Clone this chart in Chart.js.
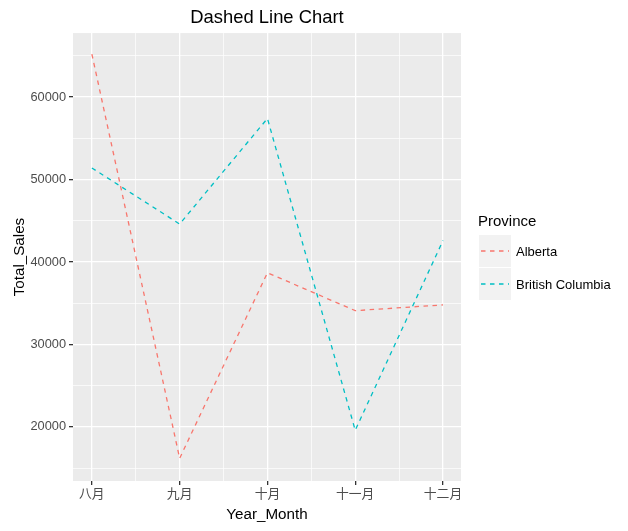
<!DOCTYPE html>
<html>
<head>
<meta charset="utf-8">
<script src="https://cdn.jsdelivr.net/npm/chart.js@4"></script>
<style>
  html, body { margin: 0; padding: 0; background: #fff; }
  #wrap { width: 628px; height: 531px; }
</style>
</head>
<body>
<div id="wrap"><canvas id="myChart" width="628" height="531"></canvas></div>
<script>
const months = ['八月', '九月', '十月', '十一月', '十二月'];
const albertaSales = [65200, 16200, 38700, 34100, 34800];
const bcSales = [51400, 44600, 57400, 19600, 42600];
const seriesNames = ['Alberta', 'British Columbia'];
const seriesColors = ['#F8766D', '#00BFC4'];
const yTicks = [15000, 20000, 25000, 30000, 35000, 40000, 45000, 50000, 55000, 60000, 65000];

const fontFamily = '"Liberation Sans", Arial, "Noto Sans CJK SC", sans-serif';

function toPoints(values) {
    return values.map((v, i) => ({ x: i, y: v }));
}

// gray panel behind the plot area
const panelBg = {
    id: 'panelBg',
    beforeDraw(chart) {
        const { ctx, chartArea } = chart;
        ctx.save();
        ctx.fillStyle = '#EBEBEB';
        ctx.fillRect(chartArea.left, chartArea.top, chartArea.right - chartArea.left, chartArea.bottom - chartArea.top);
        ctx.restore();
    }
};

// ggplot-style legend on the right
const sideLegend = {
    id: 'sideLegend',
    afterDraw(chart) {
        const ctx = chart.ctx;
        const x0 = 479;
        ctx.save();
        ctx.fillStyle = '#000';
        ctx.font = '15px ' + fontFamily;
        ctx.textBaseline = 'middle';
        ctx.fillText('Province', x0 - 1, 222);
        chart.data.datasets.forEach((ds, i) => {
            const top = 235 + i * 33;
            ctx.fillStyle = '#F2F2F2';
            ctx.fillRect(x0, top, 32, 32);
            ctx.strokeStyle = ds.borderColor;
            ctx.lineWidth = 1.3;
            ctx.setLineDash([4.5, 4.5]);
            ctx.beginPath();
            ctx.moveTo(x0 + 2, top + 16);
            ctx.lineTo(x0 + 30, top + 16);
            ctx.stroke();
            ctx.setLineDash([]);
            ctx.fillStyle = '#000';
            ctx.font = '13px ' + fontFamily;
            ctx.fillText(ds.label, x0 + 37, top + 17);
        });
        ctx.restore();
    }
};

const datasets = [albertaSales, bcSales].map((vals, i) => ({
    label: seriesNames[i],
    data: toPoints(vals),
    borderColor: seriesColors[i],
    backgroundColor: seriesColors[i],
    borderWidth: 1.3,
    borderDash: [4.5, 4.5],
    pointRadius: 0,
    tension: 0,
    fill: false
}));

const ctx = document.getElementById('myChart').getContext('2d');
new Chart(ctx, {
    type: 'line',
    data: { datasets: datasets },
    options: {
        responsive: false,
        animation: false,
        layout: { padding: { left: 0, right: 167, top: 0, bottom: 0 } },
        plugins: {
            legend: { display: false },
            tooltip: { enabled: false },
            title: {
                display: true,
                text: 'Dashed Line Chart',
                fullSize: false,
                color: '#000',
                font: { family: fontFamily, size: 18.4, weight: 'normal' },
                padding: { top: 7, bottom: 4 }
            }
        },
        scales: {
            x: {
                type: 'linear',
                min: -0.215,
                max: 4.205,
                afterBuildTicks(axis) {
                    const t = [];
                    for (let v = 0; v <= months.length - 1; v += 0.5) t.push({ value: v });
                    axis.ticks = t;
                },
                afterFit(axis) { axis.height = 50; },
                border: { display: false },
                grid: {
                    color: '#FFFFFF',
                    lineWidth: c => (Number.isInteger(c.tick.value) ? 1.3 : 0.7),
                    tickColor: c => (Number.isInteger(c.tick.value) ? '#333333' : 'rgba(0,0,0,0)'),
                    tickLength: 4,
                    drawTicks: true
                },
                ticks: {
                    autoSkip: false,
                    maxRotation: 0,
                    padding: 2,
                    color: '#4D4D4D',
                    font: { family: fontFamily, size: 12.8 },
                    callback: v => (Number.isInteger(v) ? months[v] : '')
                },
                title: {
                    display: true,
                    text: 'Year_Month',
                    color: '#000',
                    font: { family: fontFamily, size: 15.2 },
                    padding: { top: 0, bottom: 7 }
                }
            },
            y: {
                min: 13450,
                max: 67750,
                afterBuildTicks(axis) {
                    axis.ticks = yTicks.map(v => ({ value: v }));
                },
                afterFit(axis) { axis.width = 73; },
                border: { display: false },
                grid: {
                    color: '#FFFFFF',
                    lineWidth: c => (c.tick.value % 10000 === 0 ? 1.3 : 0.7),
                    tickColor: c => (c.tick.value % 10000 === 0 ? '#333333' : 'rgba(0,0,0,0)'),
                    tickLength: 4,
                    drawTicks: true
                },
                ticks: {
                    padding: 3,
                    color: '#4D4D4D',
                    font: { family: fontFamily, size: 12.8 },
                    callback: v => (v % 10000 === 0 ? String(v) : '')
                },
                title: {
                    display: true,
                    text: 'Total_Sales',
                    color: '#000',
                    font: { family: fontFamily, size: 15.2 },
                    padding: { top: 11, bottom: 0 }
                }
            }
        }
    },
    plugins: [panelBg, sideLegend]
});
</script>
</body>
</html>
